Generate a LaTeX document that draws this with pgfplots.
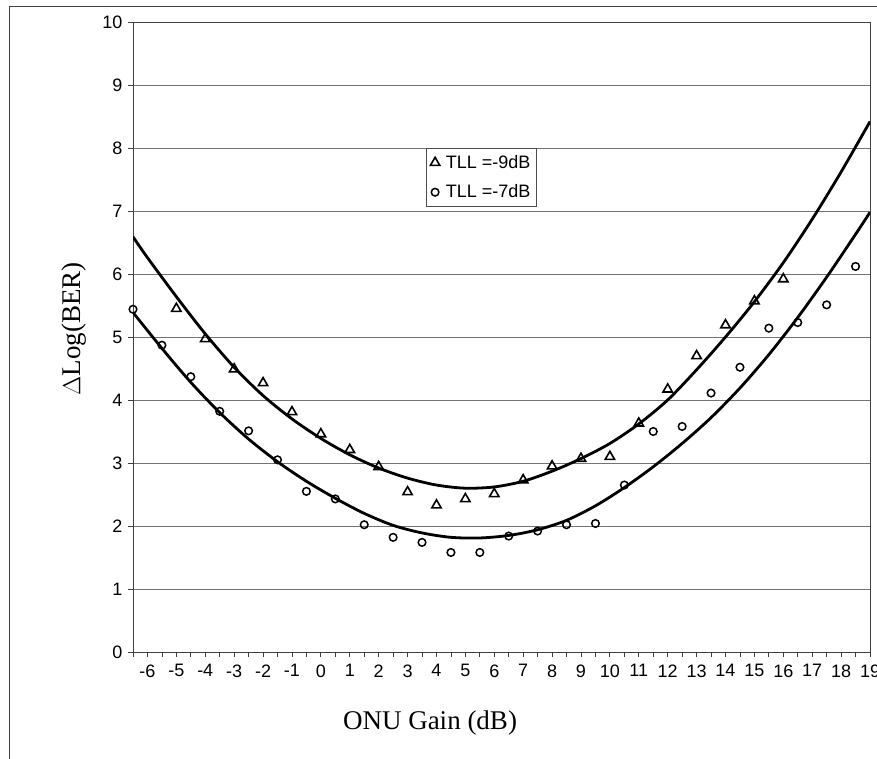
\documentclass[border=0pt]{standalone}
\usepackage{fontspec}
\setmainfont{Liberation Sans}
\newfontfamily\timesf{Liberation Serif}
\usepackage{pgfplots}
\pgfplotsset{compat=1.18}

\begin{document}
\begin{tikzpicture}[x=1pt,y=1pt]
\useasboundingbox (0,0) rectangle (877,759);
% outer chart frame
\draw[black!75, line width=1pt] (9,0) -- (9,752) -- (877,752);

\begin{axis}[
    at={(133pt,107pt)}, anchor=south west,
    width=737pt, height=630pt, scale only axis,
    xmin=-6.5, xmax=19, ymin=0, ymax=10,
    xtick={-6,...,19},
    minor xtick={-6.5,-5.5,...,18.5},
    ytick={0,...,10},
    xtick pos=bottom, ytick pos=left,
    tick align=outside,
    major tick length=5pt, minor tick length=5pt,
    tick style={black!75, line width=0.8pt},
    axis line style={black!75, line width=0.9pt},
    ymajorgrids,
    grid style={black!55, line width=0.9pt},
    /pgf/number format/assume math mode=true,
    ticklabel style={font=\fontsize{18}{21}\selectfont},
    xticklabel style={yshift=-4pt},
    yticklabel style={xshift=-2pt},
    xlabel={\timesf ONU Gain (dB)},
    ylabel={\timesf $\Delta$Log(BER)},
    label style={font=\fontsize{27}{31}\selectfont},
    xlabel style={at={(axis description cs:0.403,-0.1127)}, anchor=center},
    ylabel style={at={(axis description cs:-0.080,0.513)}, anchor=center},
    legend style={at={(0.3976,0.8)}, anchor=north west,
        draw=black!70, line width=0.8pt,
        font=\fontsize{18}{21}\selectfont,
        inner xsep=4pt, inner ysep=5pt, row sep=11pt},
    legend cell align=left,
]

% TLL = -9 dB
\addplot[only marks, mark=triangle, mark size=5.4pt,
    mark options={black, line width=1.6pt}]
coordinates {
    (-5,5.45)(-4,4.97)(-3,4.49)(-2,4.27)(-1,3.81)(0,3.46)(1,3.21)(2,2.94)
    (3,2.54)(4,2.33)(5,2.43)(6,2.51)(7,2.73)(8,2.95)(9,3.07)(10,3.10)
    (11,3.63)(12,4.17)(13,4.70)(14,5.19)(15,5.57)(16,5.92)
};
\addlegendentry{\hspace{4pt}TLL =-9dB}

% TLL = -7 dB
\addplot[only marks, mark=o, mark size=3.8pt,
    mark options={black, line width=1.5pt}]
coordinates {
    (-6.5,5.44)(-5.5,4.87)(-4.5,4.37)(-3.5,3.82)(-2.5,3.51)(-1.5,3.05)
    (-0.5,2.55)(0.5,2.43)(1.5,2.02)(2.5,1.82)(3.5,1.74)(4.5,1.58)(5.5,1.58)
    (6.5,1.84)(7.5,1.92)(8.5,2.02)(9.5,2.04)(10.5,2.65)(11.5,3.50)(12.5,3.58)
    (13.5,4.11)(14.5,4.52)(15.5,5.14)(16.5,5.23)(17.5,5.51)(18.5,6.12)
};
\addlegendentry{\hspace{4pt}TLL =-7dB}

% trend lines
\addplot[forget plot, black, line width=2.8pt, smooth, no markers]
coordinates {
    (-6.5,6.59)(-6,6.26)(-5,5.64)(-4,5.05)(-3,4.52)(-2,4.07)(-1,3.70)
    (0,3.39)(1,3.13)(2,2.92)(3,2.76)(4,2.65)(5,2.60)(6,2.62)(7,2.71)
    (8,2.87)(9,3.07)(10,3.31)(11,3.62)(12,4.00)(13,4.48)(14,5.00)(15,5.56)
    (16,6.18)(17,6.87)(18,7.62)(19,8.42)
};
\addplot[forget plot, black, line width=2.8pt, smooth, no markers]
coordinates {
    (-6.5,5.39)(-5.5,4.82)(-4.5,4.28)(-3.5,3.80)(-2.5,3.38)(-1.5,3.02)
    (-0.5,2.71)(0.5,2.44)(1.5,2.20)(2.5,2.01)(3.5,1.89)(4.5,1.82)(5.5,1.81)
    (6.5,1.85)(7.5,1.94)(8.5,2.09)(9.5,2.32)(10.5,2.61)(11.5,2.94)(12.5,3.31)
    (13.5,3.72)(14.5,4.19)(15.5,4.72)(16.5,5.31)(17.5,5.95)(18.5,6.63)(19,6.98)
};
\end{axis}
\end{tikzpicture}
\end{document}
